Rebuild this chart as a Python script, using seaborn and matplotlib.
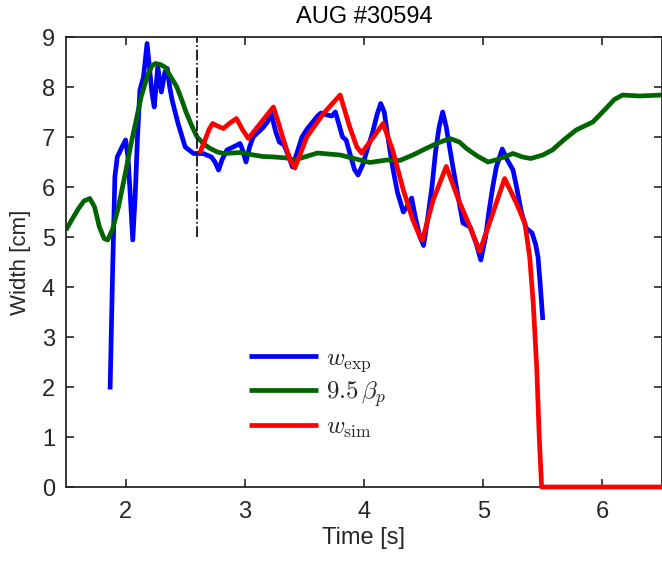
import numpy as np
import pandas as pd
import matplotlib
matplotlib.use("Agg")
import matplotlib.pyplot as plt
import seaborn as sns

# Data
t_exp = [1.87, 1.89, 1.91, 1.93, 1.97, 2.00, 2.02, 2.04, 2.06, 2.08, 2.10, 2.12,
         2.15, 2.18, 2.20, 2.22, 2.24, 2.27, 2.30, 2.33, 2.35, 2.37, 2.39, 2.44,
         2.50, 2.57, 2.65, 2.72, 2.75, 2.78, 2.81, 2.85, 2.92, 2.96, 2.98, 3.01,
         3.04, 3.07, 3.10, 3.15, 3.19, 3.22, 3.26, 3.29, 3.33, 3.37, 3.40, 3.44,
         3.48, 3.52, 3.56, 3.61, 3.64, 3.69, 3.73, 3.76, 3.79, 3.82, 3.85, 3.89,
         3.92, 3.95, 3.99, 4.03, 4.07, 4.11, 4.14, 4.17, 4.20, 4.24, 4.28, 4.33,
         4.36, 4.40, 4.43, 4.47, 4.50, 4.53, 4.57, 4.60, 4.63, 4.66, 4.69, 4.74,
         4.79, 4.83, 4.89, 4.94, 4.98, 5.02, 5.05, 5.08, 5.11, 5.16, 5.20, 5.25,
         5.28, 5.32, 5.36, 5.41, 5.44, 5.46, 5.48, 5.50]
w_exp = [1.95, 4.2, 6.2, 6.6, 6.8, 6.94, 6.6, 5.8, 4.94, 5.8, 7.0, 7.94,
         8.2, 8.87, 8.4, 7.9, 7.6, 8.4, 7.9, 8.3, 8.37, 8.0, 7.74, 7.27,
         6.8, 6.67, 6.67, 6.6, 6.5, 6.34, 6.55, 6.74, 6.82, 6.87, 6.75, 6.5,
         6.8, 7.0, 7.07, 7.18, 7.3, 7.48, 7.1, 6.9, 6.84, 6.6, 6.4, 6.7,
         7.0, 7.15, 7.27, 7.42, 7.48, 7.44, 7.42, 7.5, 7.25, 7.0, 6.94, 6.6,
         6.35, 6.24, 6.45, 6.77, 7.07, 7.45, 7.67, 7.5, 7.0, 6.4, 5.9, 5.5,
         5.6, 5.78, 5.4, 5.0, 4.83, 5.3, 6.0, 6.7, 7.2, 7.5, 7.2, 6.48,
         5.8, 5.28, 5.2, 4.88, 4.54, 5.0, 5.54, 6.0, 6.4, 6.76, 6.55, 6.34,
         6.0, 5.5, 5.18, 5.08, 4.85, 4.6, 4.0, 3.34]

t_beta = [1.50, 1.55, 1.60, 1.65, 1.70, 1.74, 1.78, 1.82, 1.85, 1.89, 1.94, 2.00,
          2.04, 2.09, 2.13, 2.18, 2.22, 2.25, 2.29, 2.33, 2.38, 2.43, 2.47, 2.51,
          2.56, 2.60, 2.66, 2.71, 2.77, 2.82, 2.90, 2.96, 3.05, 3.15, 3.25, 3.35,
          3.42, 3.50, 3.61, 3.70, 3.80, 3.90, 4.05, 4.19, 4.30, 4.41, 4.52, 4.62,
          4.72, 4.80, 4.86, 4.95, 5.04, 5.12, 5.25, 5.33, 5.40, 5.50, 5.58, 5.68,
          5.78, 5.92, 6.03, 6.10, 6.17, 6.31, 6.50]
beta_p = [5.14, 5.35, 5.55, 5.72, 5.77, 5.6, 5.2, 4.97, 4.94, 5.15, 5.6, 6.3,
          6.8, 7.35, 7.8, 8.2, 8.42, 8.47, 8.45, 8.4, 8.2, 8.0, 7.75, 7.48,
          7.2, 7.0, 6.85, 6.77, 6.7, 6.67, 6.68, 6.69, 6.65, 6.61, 6.6, 6.58,
          6.54, 6.6, 6.68, 6.66, 6.64, 6.58, 6.49, 6.54, 6.53, 6.64, 6.77, 6.88,
          6.97, 6.9, 6.77, 6.62, 6.5, 6.55, 6.67, 6.6, 6.57, 6.64, 6.74, 6.95,
          7.14, 7.3, 7.57, 7.75, 7.84, 7.82, 7.84]

t_sim = [2.62, 2.66, 2.70, 2.73, 2.77, 2.82, 2.87, 2.93, 2.98, 3.03, 3.08, 3.14,
         3.19, 3.24, 3.28, 3.33, 3.38, 3.42, 3.52, 3.66, 3.80, 3.88, 3.94, 3.98,
         4.08, 4.16, 4.24, 4.33, 4.41, 4.47, 4.49, 4.58, 4.69, 4.80, 4.89, 4.97,
         5.08, 5.18, 5.28, 5.35, 5.39, 5.42, 5.45, 5.47, 5.49, 6.50]
w_sim = [6.67, 6.9, 7.15, 7.27, 7.22, 7.17, 7.27, 7.37, 7.15, 6.97, 7.12, 7.3,
         7.45, 7.6, 7.3, 6.9, 6.55, 6.38, 7.0, 7.47, 7.84, 7.2, 6.8, 6.68,
         7.0, 7.27, 6.74, 5.94, 5.34, 5.0, 4.94, 5.74, 6.41, 5.7, 5.2, 4.71,
         5.47, 6.17, 5.67, 5.27, 4.6, 3.67, 2.34, 1.0, 0.0, 0.0]

t_mark = 2.6
mark_span = [5, 9]

sns.set_theme(style="white")
plt.rcParams['font.family'] = ['Liberation Sans', 'DejaVu Sans']
plt.rcParams['mathtext.fontset'] = 'cm'
plt.rcParams['xtick.direction'] = 'in'
plt.rcParams['ytick.direction'] = 'in'
plt.rcParams['lines.solid_joinstyle'] = 'round'
plt.rcParams['lines.solid_capstyle'] = 'butt'

fig = plt.figure(figsize=(6.62, 5.65), dpi=100)
ax = fig.add_axes([66 / 662, 78 / 565, 596 / 662, 450 / 565])

lw = 3.4
sns.lineplot(x=t_exp, y=w_exp, ax=ax, color='#0000ff', linewidth=lw,
             estimator=None, sort=False, label=r'$w_{\rm exp}$')
sns.lineplot(x=t_beta, y=beta_p, ax=ax, color='#006400', linewidth=lw,
             estimator=None, sort=False, label=r'$9.5\,\beta_p$')
sns.lineplot(x=t_sim, y=w_sim, ax=ax, color='#ff0000', linewidth=lw,
             estimator=None, sort=False, label=r'$w_{\rm sim}$', clip_on=False,
             zorder=5)
ax.plot([t_mark, t_mark], mark_span, color='black', linestyle='-.', linewidth=1.2)

ax.set_xlim(1.5, 6.5)
ax.set_ylim(0, 9)
ax.set_xticks([2, 3, 4, 5, 6])
ax.set_yticks(range(0, 10))
ax.tick_params(axis='both', which='both', bottom=True, left=True, top=True,
               right=True, length=6, width=1.2, colors='#262626',
               labelsize=17)
ax.tick_params(axis='x', pad=10)
ax.tick_params(axis='y', pad=8)
for s in ax.spines.values():
    s.set_color('#262626')
    s.set_linewidth(1.3)

ax.set_xlabel('Time [s]', fontsize=17, color='#262626', labelpad=3)
ax.set_ylabel('Width [cm]', fontsize=16, color='#262626', labelpad=8)
ax.set_title('AUG #30594', fontsize=17, color='black', pad=10)

ax.legend(loc='upper left', bbox_to_anchor=(0.307, 0.314), frameon=False,
          fontsize=18, handlelength=2.76, borderpad=0, borderaxespad=0,
          labelspacing=0.23, handletextpad=0.32)

fig.savefig('out.png', dpi=100)
